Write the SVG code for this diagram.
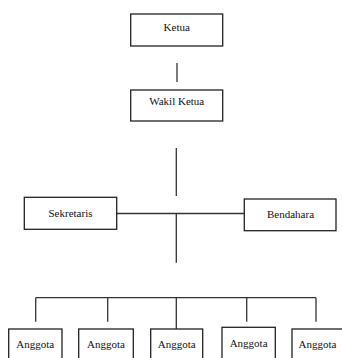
<svg xmlns="http://www.w3.org/2000/svg" width="342" height="358" viewBox="0 0 342 358">
<style>
.box{fill:#fff;stroke:#222;stroke-width:1.3}
.lbl{font-family:"Liberation Serif","Times New Roman","DejaVu Serif",serif;font-size:11px;fill:#111;text-anchor:middle}
.ln{stroke:#333;stroke-width:1.3;fill:none}
</style>
<rect width="342" height="358" fill="#fff"/>
<g id="connectors">
<line class="ln" x1="177" y1="63" x2="177" y2="82"/>
<line class="ln" x1="176.3" y1="148" x2="176.3" y2="196"/>
<line class="ln" x1="116.7" y1="213.5" x2="244.3" y2="213.5"/>
<line class="ln" x1="176.3" y1="213.5" x2="176.3" y2="262.7"/>
<line class="ln" x1="35.7" y1="297.7" x2="316" y2="297.7"/>
<line class="ln" x1="35.7" y1="297.7" x2="35.7" y2="321.7"/>
<line class="ln" x1="107.7" y1="297.7" x2="107.7" y2="321.7"/>
<line class="ln" x1="176.3" y1="297.7" x2="176.3" y2="329"/>
<line class="ln" x1="246.7" y1="297.7" x2="246.7" y2="321.7"/>
<line class="ln" x1="316" y1="297.7" x2="316" y2="321.7"/>
</g>
<g id="ketua"><rect class="box" x="130.7" y="14" width="92" height="32"/><text class="lbl" x="176.7" y="30.5">Ketua</text></g>
<g id="wakil"><rect class="box" x="130.7" y="90" width="92" height="31"/><text class="lbl" x="176.7" y="104.5">Wakil Ketua</text></g>
<g id="sekretaris"><rect class="box" x="24.3" y="197.3" width="92.4" height="32"/><text class="lbl" x="70.5" y="217">Sekretaris</text></g>
<g id="bendahara"><rect class="box" x="244.3" y="199" width="91.7" height="31.7"/><text class="lbl" x="290.5" y="218">Bendahara</text></g>
<g id="anggota1"><rect class="box" x="8.7" y="329" width="53.3" height="40"/><text class="lbl" x="35.3" y="347.5">Anggota</text></g>
<g id="anggota2"><rect class="box" x="78.7" y="329" width="54.6" height="40"/><text class="lbl" x="106" y="347.5">Anggota</text></g>
<g id="anggota3"><rect class="box" x="150.7" y="329" width="52" height="40"/><text class="lbl" x="176.7" y="347.5">Anggota</text></g>
<g id="anggota4"><rect class="box" x="222" y="327.3" width="53.3" height="40"/><text class="lbl" x="248.6" y="346.5">Anggota</text></g>
<g id="anggota5"><rect class="box" x="292" y="329" width="50.7" height="40"/><text class="lbl" x="317.5" y="347.5">Anggota</text></g>
</svg>
